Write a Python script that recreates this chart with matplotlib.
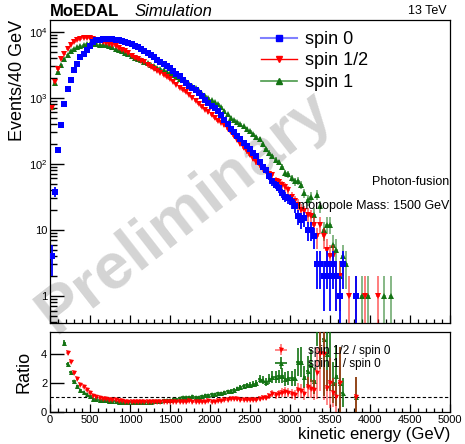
import numpy as np
import matplotlib
matplotlib.use("Agg")
import matplotlib.pyplot as plt
from matplotlib.lines import Line2D
from matplotlib.ticker import MultipleLocator, FixedLocator, FixedFormatter, NullFormatter, LogLocator

plt.rcParams['font.family'] = ['Liberation Sans', 'DejaVu Sans']
plt.rcParams['mathtext.default'] = 'regular'

# ---------------- data (events per 40 GeV bin, bins start at 0 GeV) ----------------
bin_width = 40
n_bins = 125

spin0 = [4, 38, 163, 390, 800, 1350, 1850, 2630, 3240, 4080,
         4600, 5330, 6000, 7000, 7400, 7600, 7750, 7800, 7800, 7700,
         7560, 7450, 7300, 7050, 6800, 6450, 6150, 5800, 5500, 5150,
         4800, 4400, 4100, 3750, 3500, 3200, 2980, 2810, 2550, 2300,
         2100, 1850, 1670, 1520, 1400, 1300, 1180, 1050, 920, 830,
         750, 690, 620, 540, 465, 400, 340, 300, 265, 235,
         210, 185, 165, 145, 130, 105, 91, 81, 65, 54,
         48, 43, 36, 32, 30, 26, 23, 16, 14, 15,
         10, 10, 8, 3, 3, 2, 3, 2, 3, 2,
         1, 3, 0, 0, 0, 1]

spin_half = [700, 1700, 2700, 3800, 4600, 5500, 6350, 7000, 7400, 7650,
             7900, 8000, 8000, 7800, 7450, 7150, 6950, 6750, 6550, 6250,
             6000, 5700, 5350, 5050, 4700, 4350, 4050, 3800, 3600, 3450,
             3150, 2950, 2750, 2500, 2360, 2240, 2050, 1900, 1720, 1560,
             1420, 1300, 1200, 1100, 990, 900, 810, 730, 660, 600,
             540, 490, 450, 420, 380, 340, 300, 260, 230, 200,
             175, 155, 137, 120, 108, 95, 85, 80, 70, 68,
             55, 53, 48, 44, 40, 32, 27, 24, 20, 19,
             17, 16, 12, 8, 12, 8, 5, 4, 4, 2,
             2, 0, 0, 1, 0, 1, 0, 0, 1, 0,
             0, 0, 1]

spin1 = [730, 1650, 2420, 3160, 3800, 4480, 5030, 5530, 5860, 6130,
         6350, 6420, 6450, 6420, 6400, 6350, 6280, 6200, 6000, 5800,
         5550, 5300, 5050, 4800, 4550, 4300, 4050, 3850, 3660, 3500,
         3300, 3160, 3000, 2850, 2700, 2600, 2480, 2360, 2200, 2050,
         1950, 1850, 1700, 1600, 1500, 1380, 1250, 1150, 1070, 990,
         920, 860, 800, 720, 640, 570, 500, 460, 430, 400,
         370, 340, 310, 280, 255, 240, 200, 165, 148, 130,
         115, 105, 90, 72, 70, 60, 54, 55, 48, 36,
         28, 32, 17, 34, 23, 10, 12, 12, 6, 5,
         2, 4, 3, 0, 0, 1, 0, 1, 0, 1,
         0, 0, 0, 0, 1, 0, 1]

labels = ["spin 0", "spin 1/2", "spin 1"]
ratio_labels = ["spin 1/2 / spin 0", "spin 1 / spin 0"]
x_tickvals = [0, 500, 1000, 1500, 2000, 2500, 3000, 3500, 4000, 4500, 5000]
x_ticklabels = ["0", "500", "1000", "1500", "2000", "2500", "3000", "3500", "4000", "4500", "5000"]


def pad(v):
    a = np.zeros(n_bins)
    a[:len(v)] = v
    return a


s0, sh, s1 = pad(spin0), pad(spin_half), pad(spin1)
centers = (np.arange(n_bins) + 0.5) * bin_width

W, H = 465, 444
fig = plt.figure(figsize=(W / 100, H / 100), dpi=100)


def fx(px):
    return px / W


def fy(py):
    return 1 - py / H


ax = fig.add_axes([fx(50), fy(323), fx(400), (323 - 20) / H])
ax2 = fig.add_axes([fx(50), fy(412), fx(400), (412 - 332) / H])
for a in (ax, ax2):
    a.patch.set_alpha(0)
    for s in a.spines.values():
        s.set_linewidth(0.9)

BLUE = '#0000ff'
RED = '#ff0000'
GREEN = '#137313'


def draw(axis, y, color, ecolor, marker, ms, ealpha, z):
    m = y > 0
    yv = y[m]
    err = np.sqrt(yv)
    axis.errorbar(centers[m], yv, yerr=[np.minimum(err, yv * 0.999999), err],
                  xerr=bin_width / 2, fmt='none', ecolor=ecolor, elinewidth=1.3,
                  alpha=ealpha, zorder=z)
    axis.plot(centers[m], yv, ls='none', marker=marker, color=color, ms=ms, mew=0, zorder=z + 0.5)


draw(ax, s1, GREEN, GREEN, '^', 4.2, 0.55, 3)
draw(ax, sh, RED, RED, 'v', 4.2, 0.55, 4)
draw(ax, s0, BLUE, BLUE, 's', 4.2, 1.0, 5)

ax.set_yscale('log')
ax.set_xlim(0, 5000)
ax.set_ylim(0.39, 15000)
ax.yaxis.set_major_locator(FixedLocator([1, 10, 100, 1000, 10000]))
ax.yaxis.set_major_formatter(FixedFormatter(["1", "10", "$10^{2}$", "$10^{3}$", "$10^{4}$"]))
ax.yaxis.set_minor_locator(LogLocator(base=10, subs=np.arange(2, 10)))
ax.yaxis.set_minor_formatter(NullFormatter())
ax.xaxis.set_major_locator(FixedLocator(x_tickvals))
ax.xaxis.set_minor_locator(MultipleLocator(100))
ax.xaxis.set_major_formatter(NullFormatter())
ax.tick_params(axis='y', which='major', direction='in', length=10, width=1.0, labelsize=8, pad=2)
ax.tick_params(axis='y', which='minor', direction='in', length=5, width=1.0)
ax.tick_params(axis='x', which='major', direction='in', length=6, width=0.9)
ax.tick_params(axis='x', which='minor', direction='in', length=3, width=0.9)
ax.set_ylabel("Events/40 GeV", fontsize=13, loc='top', labelpad=2)

# legend (top)
handles = [
    Line2D([], [], color='#8080ff', lw=1.5, marker='s', markerfacecolor=BLUE, markeredgecolor=BLUE, ms=4),
    Line2D([], [], color=RED, lw=1.0, marker='v', markerfacecolor=RED, markeredgecolor=RED, ms=4),
    Line2D([], [], color='#4a9a4a', lw=1.2, marker='^', markerfacecolor=GREEN, markeredgecolor=GREEN, ms=4),
]
ax.legend(handles, labels, loc='upper left', bbox_to_anchor=(200 / 400, 1.0),
          frameon=False, fontsize=13, handlelength=2.0, handletextpad=0.45, labelspacing=0.25,
          borderaxespad=0.2)

fig.text(fx(449), fy(182), "Photon-fusion", ha='right', va='center', fontsize=9)
fig.text(fx(449), fy(206), "monopole Mass: 1500 GeV", ha='right', va='center', fontsize=9)
fig.text(fx(50), fy(12), "MoEDAL", ha='left', va='center', fontsize=12, fontweight='bold')
fig.text(fx(135), fy(11), "Simulation", ha='left', va='center', fontsize=12, style='italic')
fig.text(fx(447), fy(11), "13 TeV", ha='right', va='center', fontsize=9)

# ratio panel
m1 = (s0 > 0) & (sh > 0)
m2 = (s0 > 0) & (s1 > 0)
r1 = sh[m1] / s0[m1]
e1 = r1 * np.sqrt(1 / sh[m1] + 1 / s0[m1])
r2 = s1[m2] / s0[m2]
e2 = r2 * np.sqrt(1 / s1[m2] + 1 / s0[m2])

c2 = ax2.errorbar(centers[m2], r2, yerr=e2, xerr=bin_width / 2, fmt='^', color=GREEN, ms=3.6, mew=0,
                  ecolor=GREEN, elinewidth=1.2, zorder=3)
c1 = ax2.errorbar(centers[m1], r1, yerr=e1, xerr=bin_width / 2, fmt='v', color=RED, ms=3.6, mew=0,
                  ecolor=(1, 0, 0, 0.55), elinewidth=1.2, zorder=4)
ax2.axhline(1, color='k', lw=0.8, ls=(0, (3, 2)), zorder=2)
ax2.set_xlim(0, 5000)
ax2.set_ylim(0, 5.5)
ax2.yaxis.set_major_locator(FixedLocator([0, 2, 4]))
ax2.yaxis.set_major_formatter(FixedFormatter(["0", "2", "4"]))
ax2.xaxis.set_major_locator(FixedLocator(x_tickvals))
ax2.xaxis.set_minor_locator(MultipleLocator(100))
ax2.xaxis.set_major_formatter(FixedFormatter(x_ticklabels))
ax2.tick_params(axis='y', which='major', direction='in', length=10, width=1.0, labelsize=8, pad=2)
ax2.tick_params(axis='x', which='major', direction='in', length=6, width=0.9, labelsize=8, pad=2.5)
ax2.tick_params(axis='x', which='minor', direction='in', length=3, width=0.9)
ax2.set_ylabel("Ratio", fontsize=13, labelpad=6)
ax2.set_xlabel("kinetic energy (GeV)", fontsize=12, loc='right', labelpad=1)
ax2.legend([c1, c2], ratio_labels, loc='upper left', bbox_to_anchor=(200 / 400, 0.93),
           frameon=False, fontsize=8.5, handlelength=4.0, handletextpad=0.3, labelspacing=0.1,
           borderaxespad=0.2)

# watermark
fig.text(fx(185), fy(212), "Preliminary", ha='center', va='center', fontsize=47, fontweight='bold',
         color='#d4d4d4', rotation=38, zorder=-5)

fig.savefig("out.png", dpi=100)
